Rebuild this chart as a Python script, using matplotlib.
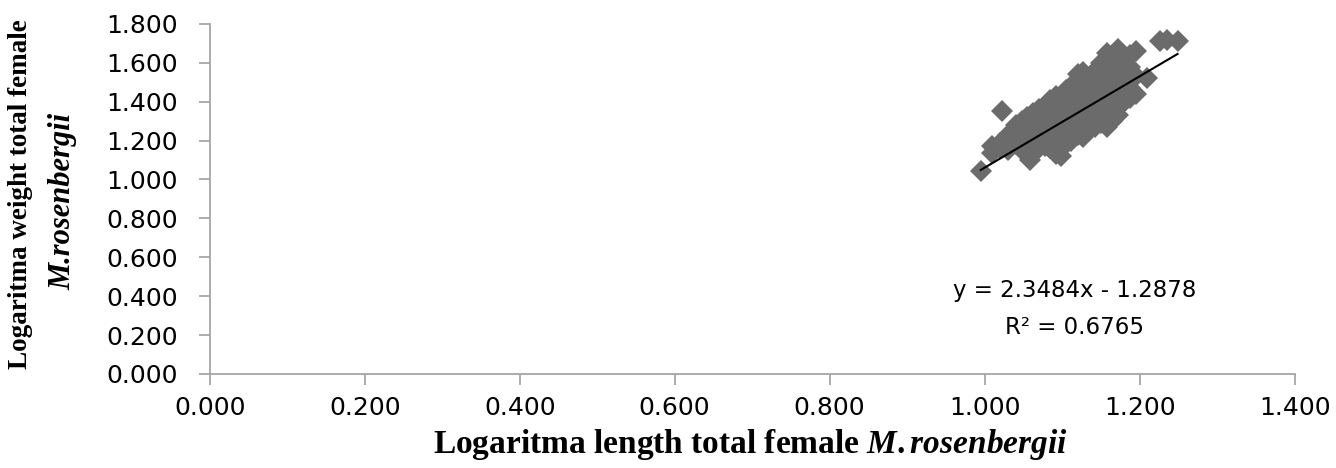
import matplotlib.pyplot as plt
import numpy as np

plt.rcParams['mathtext.fontset'] = 'custom'
plt.rcParams['mathtext.it'] = 'Liberation Serif:italic:bold'
plt.rcParams['mathtext.rm'] = 'Liberation Serif:bold'

# log length (x) / log weight (y) of female M. rosenbergii
log_length = [
    0.995,
    1.010, 1.010,
    1.020, 1.020, 1.023,
    1.030, 1.030, 1.030,
    1.040, 1.040, 1.040, 1.040,
    1.048, 1.048, 1.048, 1.048, 1.048,
    1.055, 1.055, 1.055, 1.055, 1.058,
    1.062, 1.062, 1.062, 1.062, 1.062, 1.062,
    1.070, 1.070, 1.070, 1.070, 1.070, 1.070,
    1.078, 1.078, 1.078, 1.078, 1.078, 1.078,
    1.085, 1.085, 1.085, 1.085, 1.085, 1.085, 1.085,
    1.092, 1.092, 1.092, 1.092, 1.092, 1.092, 1.092,
    1.098, 1.098, 1.098, 1.098, 1.098, 1.098,
    1.105, 1.105, 1.105, 1.105, 1.105, 1.105, 1.105,
    1.112, 1.112, 1.112, 1.112, 1.112, 1.112, 1.112,
    1.120, 1.120, 1.120, 1.120, 1.120, 1.120, 1.120, 1.120,
    1.127, 1.127, 1.127, 1.127, 1.127, 1.127, 1.127, 1.127,
    1.135, 1.135, 1.135, 1.135, 1.135, 1.135, 1.135,
    1.142, 1.142, 1.142, 1.142, 1.142, 1.142, 1.142,
    1.150, 1.150, 1.150, 1.150, 1.150, 1.150, 1.150,
    1.158, 1.158, 1.158, 1.158, 1.158, 1.158, 1.158,
    1.165, 1.165, 1.165, 1.165, 1.165, 1.165, 1.165,
    1.172, 1.172, 1.172, 1.172, 1.172, 1.172, 1.172,
    1.180, 1.180, 1.180, 1.180, 1.180,
    1.188, 1.188, 1.188, 1.188, 1.188,
    1.195, 1.195, 1.195,
    1.210, 1.226, 1.235, 1.249,
]
log_weight = [
    1.045,
    1.135, 1.170,
    1.190, 1.160, 1.350,
    1.200, 1.230, 1.150,
    1.210, 1.250, 1.280, 1.180,
    1.230, 1.300, 1.260, 1.190, 1.150,
    1.240, 1.280, 1.320, 1.200, 1.100,
    1.220, 1.270, 1.310, 1.340, 1.180, 1.140,
    1.250, 1.290, 1.330, 1.360, 1.200, 1.160,
    1.270, 1.310, 1.350, 1.380, 1.220, 1.170,
    1.260, 1.300, 1.340, 1.390, 1.410, 1.200, 1.160,
    1.280, 1.320, 1.360, 1.400, 1.430, 1.220, 1.130,
    1.300, 1.340, 1.380, 1.430, 1.240, 1.120,
    1.290, 1.330, 1.370, 1.410, 1.460, 1.250, 1.180,
    1.310, 1.350, 1.390, 1.430, 1.480, 1.270, 1.200,
    1.330, 1.370, 1.410, 1.450, 1.500, 1.540, 1.280, 1.230,
    1.320, 1.360, 1.400, 1.440, 1.490, 1.550, 1.270, 1.220,
    1.350, 1.390, 1.430, 1.470, 1.520, 1.300, 1.260,
    1.360, 1.400, 1.450, 1.500, 1.560, 1.320, 1.270,
    1.380, 1.420, 1.470, 1.520, 1.600, 1.330, 1.290,
    1.400, 1.440, 1.490, 1.550, 1.650, 1.350, 1.270,
    1.410, 1.460, 1.510, 1.570, 1.620, 1.370, 1.300,
    1.430, 1.480, 1.530, 1.590, 1.670, 1.380, 1.330,
    1.450, 1.500, 1.550, 1.610, 1.400,
    1.470, 1.520, 1.580, 1.640, 1.420,
    1.440, 1.530, 1.660,
    1.520, 1.710, 1.715, 1.710,
]

# linear trendline reported on the chart
slope = 2.3484
intercept = -1.2878
r_squared = 0.6765

x_ticks = [0.0, 0.2, 0.4, 0.6, 0.8, 1.0, 1.2, 1.4]
y_ticks = [0.0, 0.2, 0.4, 0.6, 0.8, 1.0, 1.2, 1.4, 1.6, 1.8]

fig = plt.figure(figsize=(13.36, 4.68), dpi=100)
ax = fig.add_axes([0.157, 0.201, 0.812, 0.748])

ax.plot(log_length, log_weight, linestyle='none', marker='D', markersize=11.5,
        color='#6b6b6b', markeredgewidth=0)

xs = np.array([min(log_length), max(log_length)])
ax.plot(xs, slope * xs + intercept, color='black', linewidth=1.5)

ax.text(1.116, 0.43, f'y = {slope}x - {abs(intercept)}', ha='center', va='center',
        fontsize=16.5, family='DejaVu Sans')
ax.text(1.116, 0.24, f'R² = {r_squared}', ha='center', va='center',
        fontsize=16.5, family='DejaVu Sans')

ax.set_xlim(0, 1.4)
ax.set_ylim(0, 1.8)
ax.set_xticks(x_ticks)
ax.set_yticks(y_ticks)
ax.set_xticklabels([f'{v:.3f}' for v in x_ticks])
ax.set_yticklabels([f'{v:.3f}' for v in y_ticks])

for side in ['top', 'right']:
    ax.spines[side].set_visible(False)
for side in ['left', 'bottom']:
    ax.spines[side].set_color('#a6a6a6')
    ax.spines[side].set_linewidth(1.3)

ax.tick_params(axis='both', direction='out', length=8, width=1.3, color='#a6a6a6',
               labelsize=18)
ax.tick_params(axis='y', pad=15)
ax.tick_params(axis='x', pad=8)

# axis titles, Times-like bold
fig.text(0.5615, 0.05, 'Logaritma length total female $\\mathit{M.rosenbergii}$',
         ha='center', va='center', fontsize=24, family='Liberation Serif',
         fontweight='bold')
fig.text(0.0155, 0.585, 'Logaritma weight total female', rotation=90,
         ha='center', va='center', fontsize=19.5, family='Liberation Serif',
         fontweight='bold')
fig.text(0.047, 0.57, 'M.rosenbergii', rotation=90, ha='center', va='center',
         fontsize=22, family='Liberation Serif', fontweight='bold', style='italic')

plt.savefig('out.png', dpi=100)
plt.close()
